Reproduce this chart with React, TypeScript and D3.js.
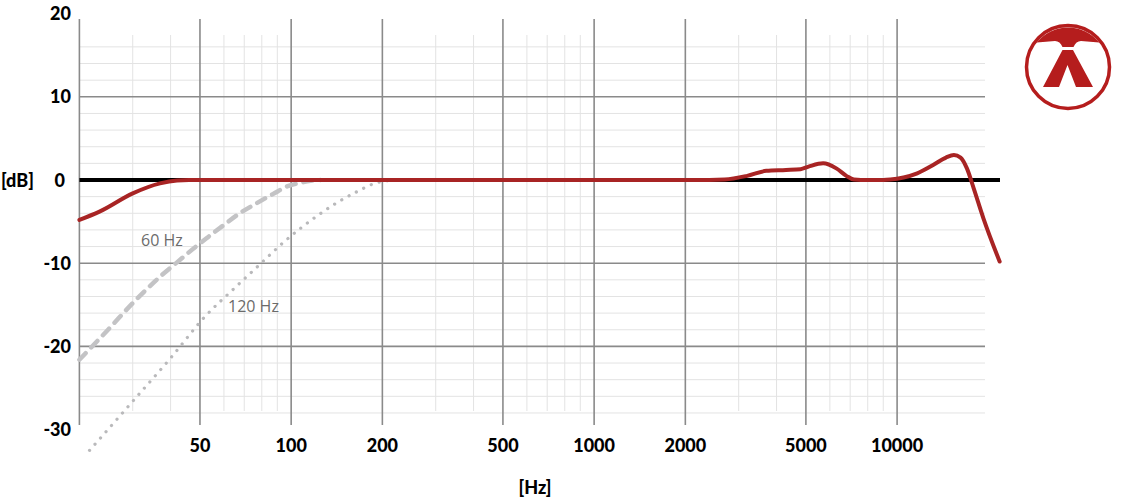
import React from "react";
import * as d3 from "d3";

const W = 1137;
const H = 497;

// Frequency response (Hz, dB)
const mainFreq = [20, 23.3, 30, 36.9, 42, 46, 50, 70, 100, 200, 500, 1000, 1500, 2000, 2400, 2700, 3200, 3700, 4300, 4800, 5100, 5700, 6300, 6800, 7200, 7600, 8300, 9000, 9500, 10500, 11650, 13150, 14500, 15400, 16200, 17000, 17900, 19270, 21800];
const mainDb = [-4.8, -3.8, -1.6, -0.4, -0.05, 0, 0, 0, 0, 0, 0, 0, 0, 0, 0, 0.05, 0.5, 1.1, 1.2, 1.3, 1.6, 2.0, 1.4, 0.5, 0.05, 0, 0, 0, 0.05, 0.3, 0.8, 1.8, 2.7, 3.0, 2.7, 1.4, -1.0, -4.6, -9.8];

// 60 Hz low-cut (dashed)
const cut60Freq = [20, 25, 30, 37.5, 42, 47, 53, 60, 67, 76, 87, 98, 107, 116, 125];
const cut60Db = [-21.6, -17.9, -14.8, -11.4, -9.9, -8.4, -6.9, -5.4, -4.1, -2.9, -1.7, -0.7, -0.35, -0.1, 0];

// 120 Hz low-cut (dotted)
const cut120Freq = [21.6, 30, 40, 52, 65, 78, 95, 122, 142, 165, 189, 207, 220];
const cut120Db = [-32.5, -26.6, -21.4, -16.4, -13.0, -10.3, -7.4, -4.3, -2.7, -1.4, -0.4, -0.1, 0];

const xMajor = [20, 50, 100, 200, 500, 1000, 2000, 5000, 10000];
const xLabels = ["50", "100", "200", "500", "1000", "2000", "5000", "10000"];
const xLabelValues = [50, 100, 200, 500, 1000, 2000, 5000, 10000];
const xMinor = [30, 40, 60, 70, 80, 90, 300, 400, 600, 700, 800, 900, 3000, 4000, 6000, 7000, 8000, 9000];
const yMajor = [10, -10, -20];
const yMinor = [16, 14, 12, 8, 6, 4, 2, -2, -4, -6, -8, -12, -14, -16, -18, -22, -24, -26, -28];
const yLabels = ["20", "10", "0", "-10", "-20", "-30"];
const yLabelValues = [20, 10, 0, -10, -20, -30];

const x = d3.scaleLog().domain([20, 20000]).range([79.4, 988.3]);
const y = d3.scaleLinear().domain([-30, 20]).range([429.6, 13.6]);

const FONT = "Lato, 'Open Sans', Roboto, sans-serif";

function makePath(f: number[], db: number[], curve: d3.CurveFactory) {
  const pts: [number, number][] = f.map((v, i) => [v, db[i]]);
  return (
    d3
      .line<[number, number]>()
      .x((d) => x(d[0]))
      .y((d) => y(d[1]))
      .curve(curve)(pts) || ""
  );
}

export default function App() {
  const gridRight = 985;
  const zeroRight = 1000;
  const left = x(20);
  const logoCx = 1068;
  const logoCy = 67;
  const logoR = 40;
  const dy = logoCy - 42;
  const dx = Math.sqrt(logoR * logoR - dy * dy);
  const red = "#a82424";
  const logoRed = "#b51d1d";

  const capPath = `M ${logoCx - dx} 42.5 A ${logoR} ${logoR} 0 0 1 ${logoCx + dx} 42.5 L ${logoCx + 13} 41 Q ${logoCx + 8} 41 ${logoCx + 5.5} 47 L ${logoCx - 5.5} 47 Q ${logoCx - 8} 41 ${logoCx - 13} 41 Z`;
  const chevron = `M ${logoCx - 5.5} 50 L ${logoCx + 5} 50 L ${logoCx + 25} 87 L ${logoCx + 8} 87 L ${logoCx - 0.5} 65 L ${logoCx - 9} 87 L ${logoCx - 25} 87 Z`;

  return (
    <svg
      width={W}
      height={H}
      style={{ position: "absolute", left: 0, top: 0, background: "#fff" }}
      fontFamily={FONT}
    >
      {/* minor grid */}
      <g stroke="#e3e3e3" strokeWidth={1}>
        {xMinor.map((f) => (
          <line key={"xm" + f} x1={x(f)} x2={x(f)} y1={35} y2={411} />
        ))}
        {yMinor.map((v) => (
          <line key={"ym" + v} x1={left} x2={gridRight} y1={y(v)} y2={y(v)} />
        ))}
      </g>
      {/* major grid */}
      <g stroke="#8a8a8a" strokeWidth={1.6}>
        {xMajor.map((f) => (
          <line key={"xM" + f} x1={x(f)} x2={x(f)} y1={19} y2={425} />
        ))}
        {yMajor.map((v) => (
          <line key={"yM" + v} x1={left} x2={gridRight} y1={y(v)} y2={y(v)} />
        ))}
      </g>
      {/* zero line */}
      <line x1={left} x2={zeroRight} y1={y(0)} y2={y(0)} stroke="#000" strokeWidth={4} />

      {/* low cut curves */}
      <path
        d={makePath(cut60Freq, cut60Db, d3.curveMonotoneX)}
        fill="none"
        stroke="#c3c3c5"
        strokeWidth={4.5}
        strokeDasharray="9 8"
        strokeLinecap="round"
      />
      <path
        d={makePath(cut120Freq, cut120Db, d3.curveMonotoneX)}
        fill="none"
        stroke="#b9b9bb"
        strokeWidth={3.2}
        strokeDasharray="0.1 8.2"
        strokeLinecap="round"
      />
      <text x={141} y={245.5} fontSize={16} fill="#6b6b6b" fontFamily="'Open Sans', sans-serif">
        60 Hz
      </text>
      <text x={228} y={311.5} fontSize={16} fill="#6b6b6b" fontFamily="'Open Sans', sans-serif">
        120 Hz
      </text>

      {/* main response */}
      <path
        d={makePath(mainFreq, mainDb, d3.curveMonotoneX)}
        fill="none"
        stroke={red}
        strokeWidth={4}
        strokeLinejoin="round"
        strokeLinecap="round"
      />

      {/* y labels */}
      <g fontSize={18} fontWeight={900} fill="#000">
        {yLabelValues.map((v, i) => (
          <text key={"yl" + v} x={v === 0 ? 65 : 71} y={y(v) + 6.5} textAnchor="end">
            {yLabels[i]}
          </text>
        ))}
        <text x={1} y={y(0) + 6.5}>[dB]</text>
      </g>
      {/* x labels */}
      <g fontSize={18} fontWeight={900} fill="#000" textAnchor="middle">
        {xLabelValues.map((f, i) => (
          <text key={"xl" + f} x={x(f)} y={452}>
            {xLabels[i]}
          </text>
        ))}
        <text x={535} y={494}>[Hz]</text>
      </g>

      {/* logo */}
      <g>
        <circle cx={logoCx} cy={logoCy} r={41.5} fill="none" stroke={logoRed} strokeWidth={3.5} />
        <path d={capPath} fill={logoRed} />
        <path d={chevron} fill={logoRed} />
      </g>
    </svg>
  );
}
